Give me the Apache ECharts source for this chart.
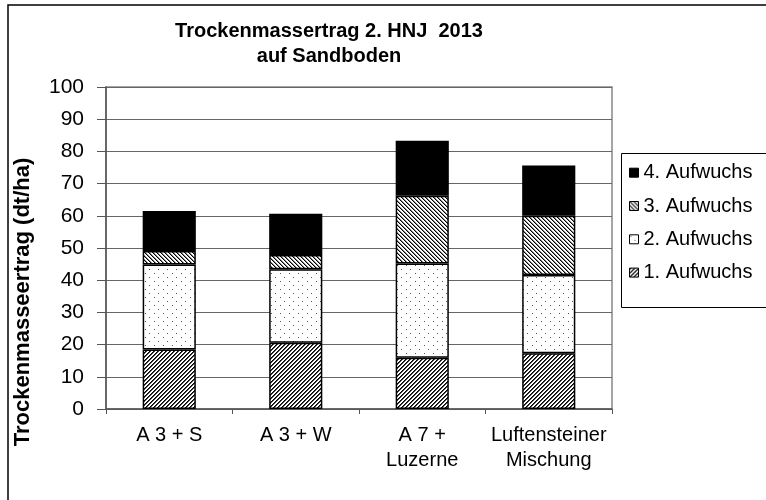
<!DOCTYPE html>
<html>
<head>
<meta charset="utf-8">
<script src="https://cdn.jsdelivr.net/npm/echarts@6/dist/echarts.min.js"></script>
<style>html,body{margin:0;padding:0;background:#fff;}#c{width:766px;height:500px;}</style>
</head>
<body>
<div id="c"></div>
<script>
var categories = ['A 3 + S', 'A 3 + W', 'A 7 +\nLuzerne', 'Luftensteiner\nMischung'];
var seriesNames = ['1. Aufwuchs', '2. Aufwuchs', '3. Aufwuchs', '4. Aufwuchs'];
var aufwuchs1 = [18.5, 20.6, 15.9, 17.3];
var aufwuchs2 = [26.4, 22.8, 29.3, 24.3];
var aufwuchs3 = [4.2, 4.4, 21.0, 18.4];
var aufwuchs4 = [12.4, 12.8, 17.1, 15.6];
var yTicks = {min: 0, max: 100, interval: 10};
var titleText = 'Trockenmassertrag 2. HNJ  2013\nauf Sandboden';
var yAxisTitle = 'Trockenmasseertrag (dt/ha)';

var FONT = 'Liberation Sans, Arial, sans-serif';

function makePattern(kind) {
  var c = document.createElement('canvas');
  var ctx;
  if (kind === 'fwd' || kind === 'back') {
    c.width = 4; c.height = 4;
    ctx = c.getContext('2d');
    ctx.fillStyle = '#fff'; ctx.fillRect(0, 0, 4, 4);
    for (var y = 0; y < 4; y++) {
      for (var x = 0; x < 4; x++) {
        var v = kind === 'fwd' ? (x + y) % 4 : (x - y + 8) % 4;
        if (v === 0) { ctx.fillStyle = '#000'; ctx.fillRect(x, y, 1, 1); }
        else if (v === 1) { ctx.fillStyle = kind === 'fwd' ? '#444' : '#888'; ctx.fillRect(x, y, 1, 1); }
      }
    }
  } else if (kind === 'dots') {
    c.width = 9; c.height = 8;
    ctx = c.getContext('2d');
    ctx.fillStyle = '#fff'; ctx.fillRect(0, 0, 9, 8);
    ctx.fillStyle = '#555';
    ctx.fillRect(1, 1, 1, 1);
    ctx.fillRect(5, 5, 1, 1);
  }
  return {image: c, repeat: 'repeat'};
}

var fills = [makePattern('fwd'), makePattern('dots'), makePattern('back'), '#000'];
var values = [aufwuchs1, aufwuchs2, aufwuchs3, aufwuchs4];

var series = seriesNames.map(function (n, i) {
  return {
    name: n,
    type: 'bar',
    stack: 'total',
    barWidth: '42%',
    data: values[i],
    itemStyle: {color: fills[i], borderColor: '#000', borderWidth: 1.5},
    emphasis: {disabled: true}
  };
});

var chart = echarts.init(document.getElementById('c'), null, {renderer: 'canvas'});
chart.setOption({
  animation: false,
  backgroundColor: '#fff',
  title: {
    text: titleText,
    left: 324,
    top: 14,
    textAlign: 'center',
    textStyle: {fontFamily: FONT, fontSize: 20, fontWeight: 'bold', color: '#000', lineHeight: 25}
  },
  legend: {
    orient: 'vertical',
    left: 621,
    top: 153,
    data: ['4. Aufwuchs', '3. Aufwuchs', '2. Aufwuchs', '1. Aufwuchs'],
    itemWidth: 9,
    itemHeight: 9,
    itemGap: 13.3,
    padding: [9.7, 5, 24.3, 8],
    borderWidth: 0,
    icon: 'rect',
    itemStyle: {borderColor: '#000', borderWidth: 1},
    textStyle: {fontFamily: FONT, fontSize: 20, color: '#000', lineHeight: 20}
  },
  grid: {left: 106, right: 154, top: 87, bottom: 91, show: true, borderColor: '#888', borderWidth: 1.5, containLabel: false},
  xAxis: {
    type: 'category',
    data: categories,
    axisLine: {lineStyle: {color: '#555', width: 1.5}},
    axisTick: {show: true, length: 5, lineStyle: {color: '#555'}},
    axisLabel: {interval: 0, fontFamily: FONT, fontSize: 20, color: '#000', margin: 13.5, lineHeight: 25}
  },
  yAxis: {
    type: 'value',
    min: yTicks.min,
    max: yTicks.max,
    interval: yTicks.interval,
    name: yAxisTitle,
    nameLocation: 'middle',
    nameRotate: 90,
    nameGap: 72,
    nameTextStyle: {fontFamily: FONT, fontSize: 22, fontWeight: 'bold', color: '#000', padding: [0, 108, 0, 0]},
    axisLine: {show: true, lineStyle: {color: '#555', width: 1.5}},
    axisTick: {show: true, length: 9, lineStyle: {color: '#555'}},
    axisLabel: {fontFamily: FONT, fontSize: 21, color: '#000', margin: 22},
    splitLine: {lineStyle: {color: '#666', width: 1}}
  },
  graphic: [{
    type: 'rect',
    shape: {x: 8, y: 5, width: 900, height: 700},
    style: {fill: null, stroke: '#000', lineWidth: 1.5},
    silent: true
  }, {
    type: 'rect',
    shape: {x: 621.5, y: 153.5, width: 300, height: 154},
    style: {fill: null, stroke: '#000', lineWidth: 1},
    silent: true
  }],
  series: series
});
</script>
</body>
</html>
